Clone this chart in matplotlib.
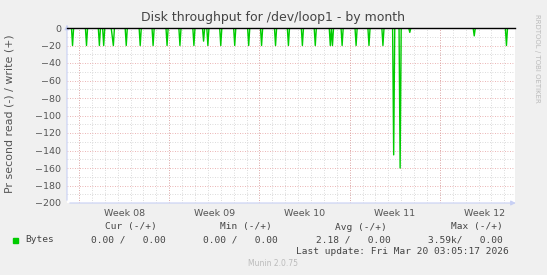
# Disk throughput for /dev/loop1 - by month (munin style)

import numpy as np
import matplotlib.pyplot as plt

# days counted from the start of Week 08
spike_days = [-0.52, 0.60, 1.55, 1.89, 2.60, 2.70, 3.70, 4.76, 5.76, 6.85, 7.86, 8.94,
              9.70, 10.01, 11.04, 12.05, 13.13, 14.17, 15.23, 16.24, 17.32, 18.36,
              19.47, 19.65, 20.43, 21.51, 22.52, 23.61, 24.38, 24.90, 25.68, 30.67, 33.13]
spike_vals = [-20, -20, -20, -20, -10, -20, -20, -20, -20, -20, -20, -20,
              -15, -20, -20, -20, -20, -20, -20, -20, -20, -20,
              -20, -20, -20, -20, -20, -20, -145, -160, -5, -9, -20]
week_labels = ['Week 08', 'Week 09', 'Week 10', 'Week 11', 'Week 12']
week_starts = [0, 7, 14, 21, 28]

# 2 hour rrd steps, zero between spikes
t = np.arange(-1, 34.5, 1 / 12)
vals = np.zeros(len(t))
for d, v in zip(spike_days, spike_vals):
    vals[int(round((d + 1) * 12))] = v

fig = plt.figure(figsize=(5.47, 2.75), dpi=100, facecolor='#f0f0f0')
ax = fig.add_axes([67 / 547, 1 - 203 / 275, 448 / 547, 175 / 275])
ax.set_facecolor('white')

ax.plot(t, vals, color='#00cc00', lw=1, zorder=3)
ax.axhline(0, color='black', lw=1, zorder=4, clip_on=False)

ax.set_xlim(-0.93, 33.83)
ax.set_ylim(-200, 0)

# grid
for d in range(0, 34):
    ax.axvline(d, color='#cfcfcf', lw=0.6, ls=(0, (1, 2)), zorder=1)
for y in range(-190, 0, 20):
    ax.axhline(y, color='#cfcfcf', lw=0.6, ls=(0, (1, 2)), zorder=1)
for d in week_starts:
    ax.axvline(d, color='#e49a9a', lw=0.6, ls=(0, (1, 2)), zorder=2)
for y in range(-200, 0, 20):
    ax.axhline(y, color='#e49a9a', lw=0.6, ls=(0, (1, 2)), zorder=2)

for s in ax.spines.values():
    s.set_visible(False)
ax.set_yticks(range(-200, 1, 20))
ax.set_xticks([w + 3.5 for w in week_starts])
ax.set_xticklabels(week_labels)
ax.tick_params(axis='both', length=0, labelsize=6.8, colors='#555555', pad=4)

# axes with arrows
ax.annotate('', xy=(1.008, 0), xytext=(0, 0), xycoords='axes fraction',
            arrowprops=dict(arrowstyle='-|>', color='#c8d0f4', lw=0.8, mutation_scale=7))
ax.annotate('', xy=(0, 1.035), xytext=(0, 0), xycoords='axes fraction',
            arrowprops=dict(arrowstyle='-|>', color='#c8d0f4', lw=0.8, mutation_scale=7))

fig.text(273 / 547, 1 - 18 / 275, 'Disk throughput for /dev/loop1 - by month',
         ha='center', va='center', fontsize=9, color='#444444')
fig.text(10 / 547, 1 - 114 / 275, 'Pr second read (-) / write (+)', rotation=90,
         ha='center', va='center', fontsize=7.9, color='#555555')
fig.text(537 / 547, 1 - 58 / 275, 'RRDTOOL / TOBI OETIKER', rotation=270,
         ha='center', va='center', fontsize=5, color='#bbbbbb')

mono = dict(family='DejaVu Sans Mono', fontsize=6.8, color='#444444', va='center')
fig.patches.append(plt.Rectangle((13 / 547, 1 - 243 / 275), 5 / 547, 5 / 275,
                                 transform=fig.transFigure, color='#00cc00'))
fig.text(25 / 547, 1 - 240 / 275, 'Bytes', **mono)
headers = ['Cur (-/+)', 'Min (-/+)', 'Avg (-/+)', 'Max (-/+)']
values = ['0.00 /   0.00', '0.00 /   0.00', '2.18 /   0.00', '3.59k/   0.00']
header_right = [157, 272, 387, 503]
value_right = [166, 278, 391, 503]
for h, x in zip(headers, header_right):
    fig.text(x / 547, 1 - 227 / 275, h, ha='right', **mono)
for v, x in zip(values, value_right):
    fig.text(x / 547, 1 - 240 / 275, v, ha='right', **mono)
fig.text(509 / 547, 1 - 252 / 275, 'Last update: Fri Mar 20 03:05:17 2026', ha='right', **mono)
fig.text(273 / 547, 1 - 263 / 275, 'Munin 2.0.75', ha='center', va='center',
         fontsize=5.5, color='#bbbbbb')

fig.savefig('out.png', dpi=100, facecolor=fig.get_facecolor())
